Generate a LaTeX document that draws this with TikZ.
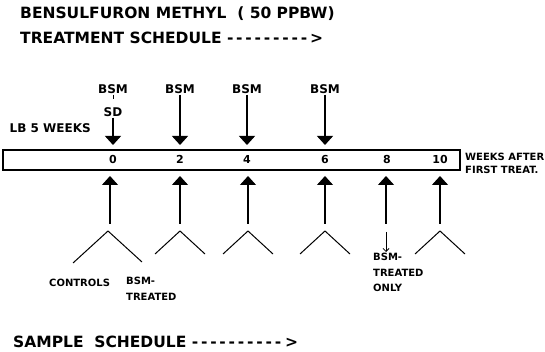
\documentclass[tikz,border=0pt]{standalone}
\usepackage{fontspec}
\setmainfont{DejaVu Sans}[Ligatures=NoCommon]
\usepackage{tikz}
\usetikzlibrary{arrows.meta,calc,positioning}

\tikzset{
  title/.style={font=\fontsize{15.5}{18}\selectfont\bfseries, anchor=west, inner sep=0pt},
  lbl/.style={font=\fontsize{12}{14}\selectfont\bfseries, inner sep=1pt},
  note/.style={font=\fontsize{10}{15.5}\selectfont\bfseries, inner sep=1pt, align=left},
  treat/.style={line width=1.1pt, -{Triangle[width=16pt,length=9pt]}},
  samp/.style={line width=1.1pt, -{Triangle[width=16pt,length=9pt]}},
  fork/.style={line width=1pt}
}
\newcommand{\dashline}[1]{\foreach \k in {1,...,#1}{-\kern2.8pt}}

\begin{document}
\begin{tikzpicture}[x=1pt,y=-1pt]
  \useasboundingbox (0,0) rectangle (545,352);
  % headings
  \node[title] (head) at (20,14) {BENSULFURON METHYL\ \ ( 50 PPBW)};
  \node[title] (treathead) at (20,38) {TREATMENT SCHEDULE \dashline{9}>};
  \node[title] (samphead) at (13,342) {SAMPLE\ \ SCHEDULE \dashline{10}\kern1pt>};

  % time bar
  \draw[line width=1.3pt] (3,150) rectangle (460,170);
  \foreach \w/\xx in {0/113,2/180,4/247,6/325,8/387,10/440}{
    \node[note, anchor=base, font=\fontsize{11}{12}\selectfont\bfseries] (t\w) at (\xx,164) {\w};
  }
  \node[note, anchor=west, font=\fontsize{10}{13}\selectfont\bfseries] (unit) at (464,163) {WEEKS AFTER\\FIRST TREAT.};

  % treatments
  \node[lbl] (b0) at (113,89) {BSM};
  \node[lbl] (sd) at (113,112) {SD};
  \node[lbl, anchor=east] (lb) at (92,128) {LB 5 WEEKS};
  \draw[line width=0.8pt] (b0.south) -- ++(0,4);
  \coordinate (d0) at (113,145);
  \draw[treat] (sd.south) -- (d0);
  \foreach \w/\xx in {2/180,4/247,6/325}{
    \node[lbl] (b\w) at (\xx,89) {BSM};
    \coordinate (d\w) at (\xx,145);
    \draw[treat] (b\w.south) -- (d\w);
  }

  % samples
  \foreach \w/\xx in {0/110,2/180,4/248,6/325,8/386,10/440}{
    \coordinate (u\w) at (\xx,176);
    \coordinate (a\w) at (\xx,224);
    \draw[samp] (a\w) -- (u\w);
  }
  \foreach \w/\xx in {2/180,4/248,6/325,10/440}{
    \coordinate (v\w) at (\xx,231);
    \coordinate (l\w) at (\xx-25,254);
    \coordinate (r\w) at (\xx+25,254);
    \draw[fork] (l\w) -- (v\w) -- (r\w);
  }
  \coordinate (v0) at (108,231);
  \coordinate (l0) at (73,263);
  \coordinate (r0) at (142,262);
  \draw[fork] (l0) -- (v0) -- (r0);
  \node[note, anchor=west] (ctrl) at (48,283) {CONTROLS};
  \node[note, anchor=north west] (bsmt) at (125,276) {BSM-\\TREATED};

  \node[note, anchor=north west] (only) at (372,252) {BSM-\\TREATED\\ONLY};
  \coordinate (s8) at (386,232);
  \draw[line width=0.8pt, -{Straight Barb[length=3pt]}] (s8) -- (s8 |- only.north);
\end{tikzpicture}
\end{document}
